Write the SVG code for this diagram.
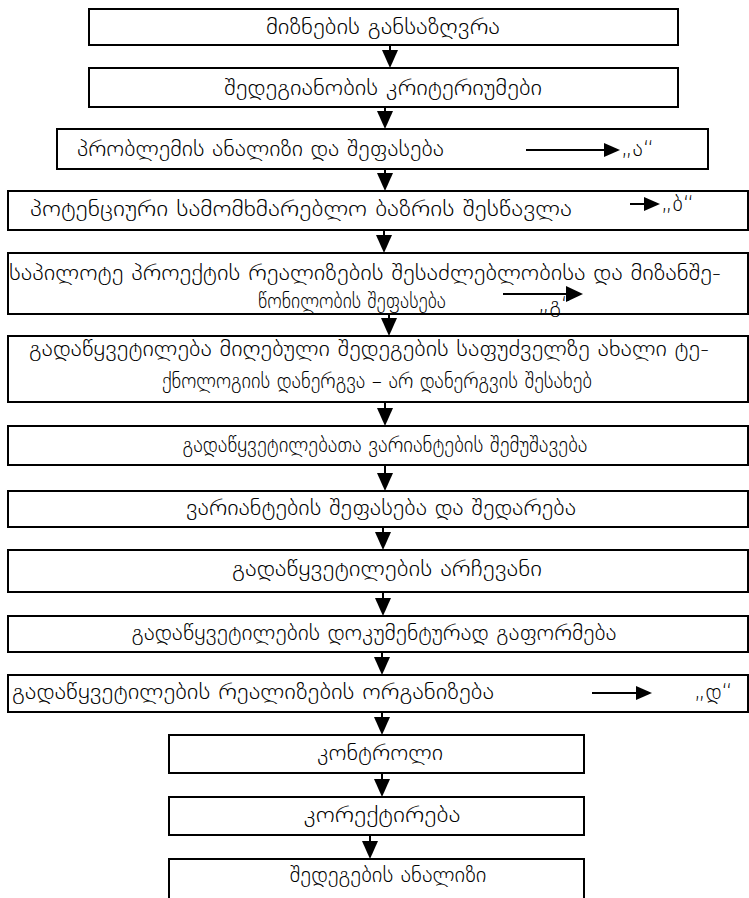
<svg xmlns="http://www.w3.org/2000/svg" width="749" height="898" viewBox="0 0 749 898">
<style>
.box{fill:#fff;stroke:#000;stroke-width:2}
.t{font-family:"DejaVu Sans",sans-serif;font-weight:200;font-size:22px;fill:#000}
.m{text-anchor:middle}
.ln{stroke:#000;stroke-width:2;fill:none}
.hd{fill:#000;stroke:none}
</style>
<rect width="749" height="898" fill="#fff"/>
<g id="n1"><rect class="box" x="89" y="9" width="589" height="36"/><text class="t m" x="383" y="34" textLength="234" lengthAdjust="spacingAndGlyphs">მიზნების განსაზღვრა</text></g>
<g id="n2"><rect class="box" x="89" y="68" width="589" height="39"/><text class="t m" x="383" y="95" textLength="318" lengthAdjust="spacingAndGlyphs">შედეგიანობის კრიტერიუმები</text></g>
<g id="n3"><rect class="box" x="57" y="129" width="651" height="40"/><text class="t" x="77" y="156" textLength="367" lengthAdjust="spacingAndGlyphs">პრობლემის ანალიზი და შეფასება</text><text class="t" x="621" y="156">„ა“</text></g>
<g id="n4"><rect class="box" x="8" y="191" width="740" height="39"/><text class="t" x="30" y="216" textLength="542" lengthAdjust="spacingAndGlyphs">პოტენციური სამომხმარებლო ბაზრის შესწავლა</text><text class="t" x="661" y="211">„ბ“</text></g>
<g id="n5"><rect class="box" x="8" y="253" width="740" height="61"/><text class="t" x="9" y="280" textLength="712" lengthAdjust="spacingAndGlyphs">საპილოტე პროექტის რეალიზების შესაძლებლობისა და მიზანშე-</text><text class="t" x="258" y="308" textLength="188" lengthAdjust="spacingAndGlyphs">წონილობის შეფასება</text><text class="t" x="538" y="312">„გ“</text></g>
<g id="n6"><rect class="box" x="8" y="336" width="740" height="66"/><text class="t" x="29" y="356" textLength="680" lengthAdjust="spacingAndGlyphs">გადაწყვეტილება მიღებული შედეგების საფუძველზე ახალი ტე-</text><text class="t" x="162" y="388" textLength="430" lengthAdjust="spacingAndGlyphs">ქნოლოგიის დანერგვა – არ დანერგვის შესახებ</text></g>
<g id="n7"><rect class="box" x="8" y="426" width="740" height="39"/><text class="t m" x="385" y="452" textLength="405" lengthAdjust="spacingAndGlyphs">გადაწყვეტილებათა ვარიანტების შემუშავება</text></g>
<g id="n8"><rect class="box" x="8" y="491" width="740" height="36"/><text class="t m" x="381" y="515" textLength="390" lengthAdjust="spacingAndGlyphs">ვარიანტების შეფასება და შედარება</text></g>
<g id="n9"><rect class="box" x="8" y="550" width="740" height="42"/><text class="t m" x="387" y="576" textLength="310" lengthAdjust="spacingAndGlyphs">გადაწყვეტილების არჩევანი</text></g>
<g id="n10"><rect class="box" x="8" y="616" width="740" height="36"/><text class="t m" x="374" y="640" textLength="485" lengthAdjust="spacingAndGlyphs">გადაწყვეტილების დოკუმენტურად გაფორმება</text></g>
<g id="n11"><rect class="box" x="8" y="675" width="740" height="37"/><text class="t" x="12" y="699" textLength="482" lengthAdjust="spacingAndGlyphs">გადაწყვეტილების რეალიზების ორგანიზება</text><text class="t" x="694" y="699">„დ“</text></g>
<g id="n12"><rect class="box" x="169" y="735" width="415" height="38"/><text class="t m" x="380" y="760" textLength="126" lengthAdjust="spacingAndGlyphs">კონტროლი</text></g>
<g id="n13"><rect class="box" x="169" y="797" width="415" height="38"/><text class="t m" x="382" y="822" textLength="157" lengthAdjust="spacingAndGlyphs">კორექტირება</text></g>
<g id="n14"><rect class="box" x="169" y="859" width="415" height="50"/><text class="t m" x="388" y="882" textLength="197" lengthAdjust="spacingAndGlyphs">შედეგების ანალიზი</text></g>
<g id="connectors">
<line class="ln" x1="390" y1="45" x2="390" y2="53"/><polygon class="hd" points="382,50 398,50 390,68"/>
<line class="ln" x1="385" y1="107" x2="385" y2="114"/><polygon class="hd" points="377,111 393,111 385,129"/>
<line class="ln" x1="385" y1="169" x2="385" y2="176"/><polygon class="hd" points="377,173 393,173 385,191"/>
<line class="ln" x1="384" y1="230" x2="384" y2="238"/><polygon class="hd" points="376,235 392,235 384,253"/>
<line class="ln" x1="389" y1="314" x2="389" y2="321"/><polygon class="hd" points="381,318 397,318 389,336"/>
<line class="ln" x1="385" y1="402" x2="385" y2="411"/><polygon class="hd" points="377,408 393,408 385,426"/>
<line class="ln" x1="385" y1="465" x2="385" y2="476"/><polygon class="hd" points="377,473 393,473 385,491"/>
<line class="ln" x1="383" y1="527" x2="383" y2="535"/><polygon class="hd" points="375,532 391,532 383,550"/>
<line class="ln" x1="383" y1="592" x2="383" y2="601"/><polygon class="hd" points="375,598 391,598 383,616"/>
<line class="ln" x1="382" y1="652" x2="382" y2="660"/><polygon class="hd" points="374,657 390,657 382,675"/>
<line class="ln" x1="382" y1="712" x2="382" y2="720"/><polygon class="hd" points="374,717 390,717 382,735"/>
<line class="ln" x1="382" y1="773" x2="382" y2="782"/><polygon class="hd" points="374,779 390,779 382,797"/>
<line class="ln" x1="370" y1="835" x2="370" y2="844"/><polygon class="hd" points="362,841 378,841 370,859"/>
<line class="ln" x1="526" y1="150" x2="608" y2="150"/><polygon class="hd" points="604,143 620,150 604,157"/>
<line class="ln" x1="630" y1="204" x2="648" y2="204"/><polygon class="hd" points="644,197 660,204 644,211"/>
<line class="ln" x1="503" y1="294" x2="570" y2="294"/><polygon class="hd" points="566,286 583,294 566,302"/>
<line class="ln" x1="592" y1="693" x2="640" y2="693"/><polygon class="hd" points="636,686 652,693 636,700"/>
</g>
</svg>
